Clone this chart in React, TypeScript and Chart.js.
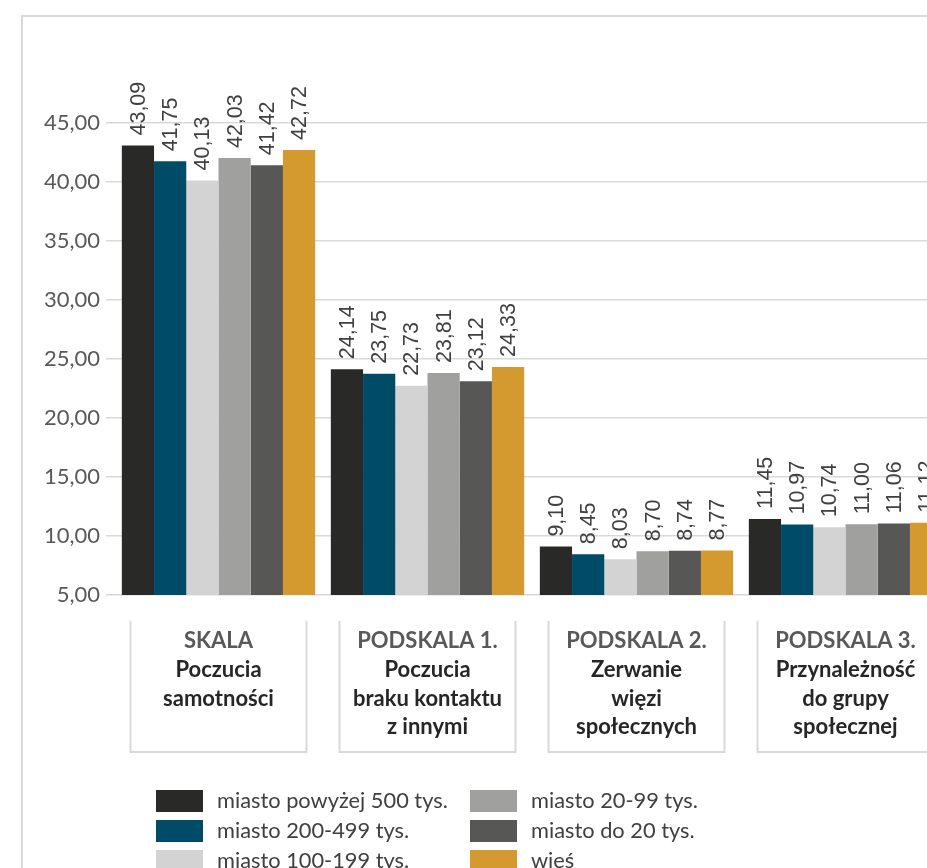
import React, { useEffect, useRef } from 'react';
import { Chart, registerables } from 'chart.js';

Chart.register(...registerables);

const categoryTitles = ['SKALA', 'PODSKALA 1.', 'PODSKALA 2.', 'PODSKALA 3.'];
const categoryLines = [
  ['Poczucia', 'samotności'],
  ['Poczucia', 'braku kontaktu', 'z innymi'],
  ['Zerwanie', 'więzi', 'społecznych'],
  ['Przynależność', 'do grupy', 'społecznej'],
];

const seriesNames = [
  'miasto powyżej 500 tys.',
  'miasto 200-499 tys.',
  'miasto 100-199 tys.',
  'miasto 20-99 tys.',
  'miasto do 20 tys.',
  'wieś',
];
const seriesColors = ['#292927', '#004b67', '#d3d3d3', '#a0a09f', '#575756', '#d49a2f'];

const miastoPow500 = [43.09, 24.14, 9.1, 11.45];
const miasto200_499 = [41.75, 23.75, 8.45, 10.97];
const miasto100_199 = [40.13, 22.73, 8.03, 10.74];
const miasto20_99 = [42.03, 23.81, 8.7, 11.0];
const miastoDo20 = [41.42, 23.12, 8.74, 11.06];
const wies = [42.72, 24.33, 8.77, 11.12];

const yMin = 5;
const yMax = 45;
const yStep = 5;

const fmt = (v: number) => v.toFixed(2).replace('.', ',');

const CANVAS_W = 960;
const CANVAS_H = 868;

const decorPlugin = {
  id: 'decor',
  beforeDraw(chart: any) {
    const ctx = chart.ctx;
    ctx.save();
    ctx.fillStyle = '#ffffff';
    ctx.fillRect(0, 0, chart.width, chart.height);
    ctx.strokeStyle = '#d9d9d9';
    ctx.lineWidth = 2;
    ctx.strokeRect(22, 16, 3000, 3000);
    ctx.restore();
  },
  afterDatasetsDraw(chart: any) {
    const ctx = chart.ctx;
    ctx.save();
    ctx.font = '21.5px "Liberation Sans", Arial, sans-serif';
    ctx.fillStyle = '#404040';
    ctx.textAlign = 'left';
    ctx.textBaseline = 'middle';
    chart.data.datasets.forEach((ds: any, di: number) => {
      const meta = chart.getDatasetMeta(di);
      meta.data.forEach((bar: any, i: number) => {
        const v = ds.data[i];
        ctx.save();
        ctx.translate(bar.x, bar.y - 10);
        ctx.rotate(-Math.PI / 2);
        ctx.fillText(fmt(v), 0, 1);
        ctx.restore();
      });
    });
    ctx.restore();
  },
  afterDraw(chart: any) {
    const ctx = chart.ctx;
    const xs = chart.scales.x;
    ctx.save();
    // category boxes
    const boxTop = 621;
    const boxBottom = 752;
    const halfW = 88;
    categoryTitles.forEach((title, i) => {
      const cx = xs.getPixelForValue(i);
      ctx.strokeStyle = '#d9d9d9';
      ctx.lineWidth = 2;
      ctx.beginPath();
      ctx.moveTo(cx - halfW, boxTop);
      ctx.lineTo(cx - halfW, boxBottom);
      ctx.lineTo(cx + halfW, boxBottom);
      ctx.lineTo(cx + halfW, boxTop);
      ctx.stroke();
      ctx.textAlign = 'center';
      ctx.textBaseline = 'middle';
      ctx.font = 'bold 22px Lato, sans-serif';
      ctx.fillStyle = '#595959';
      ctx.fillText(title, cx, 641);
      ctx.fillStyle = '#262626';
      categoryLines[i].forEach((line, li) => {
        ctx.fillText(line, cx, 670 + li * 28.5);
      });
    });
    // legend (column-major, 3 rows)
    const colX = [156, 470];
    const rowY = [790, 820, 850];
    ctx.font = '21.8px Lato, sans-serif';
    ctx.textAlign = 'left';
    ctx.textBaseline = 'middle';
    chart.data.datasets.forEach((ds: any, di: number) => {
      const col = Math.floor(di / 3);
      const row = di % 3;
      const x = colX[col];
      const y = rowY[row];
      ctx.fillStyle = ds.backgroundColor;
      ctx.fillRect(x, y, 47, 22);
      ctx.fillStyle = '#404040';
      ctx.fillText(ds.label, x + 61, y + 11);
    });
    ctx.restore();
  },
};

export default function App() {
  const ref = useRef<HTMLCanvasElement | null>(null);

  useEffect(() => {
    if (!ref.current) return;
    const seriesData = [miastoPow500, miasto200_499, miasto100_199, miasto20_99, miastoDo20, wies];
    const chart = new Chart(ref.current, {
      type: 'bar',
      data: {
        labels: categoryTitles.map((t, i) => [t, ...categoryLines[i]]),
        datasets: seriesNames.map((name, i) => ({
          label: name,
          data: seriesData[i],
          backgroundColor: seriesColors[i],
          borderWidth: 0,
          barPercentage: 1,
          categoryPercentage: 0.925,
        })),
      },
      options: {
        responsive: false,
        animation: false,
        devicePixelRatio: 1,
        layout: { padding: { top: 123, right: 10, left: 0, bottom: 0 } },
        plugins: {
          legend: { display: false },
          tooltip: { enabled: false },
        },
        scales: {
          x: {
            ticks: { display: false },
            grid: { display: false },
            border: { display: false },
            afterFit: (scale: any) => {
              scale.height = 273;
            },
          },
          y: {
            min: yMin,
            max: yMax,
            ticks: {
              stepSize: yStep,
              color: '#595959',
              font: { family: 'Lato, sans-serif', size: 22 },
              padding: 6,
              callback: (v: any) => fmt(Number(v)),
            },
            grid: { color: '#d9d9d9', lineWidth: 1.5, tickLength: 8, drawTicks: true },
            border: { display: false },
            afterFit: (scale: any) => {
              scale.width = 114;
            },
          },
        },
      },
      plugins: [decorPlugin],
    });
    return () => chart.destroy();
  }, []);

  return (
    <div
      style={{
        position: 'fixed',
        left: 0,
        top: 0,
        width: 927,
        height: 868,
        overflow: 'hidden',
        background: '#fff',
      }}
    >
      <canvas ref={ref} width={CANVAS_W} height={CANVAS_H} style={{ display: 'block', width: CANVAS_W, height: CANVAS_H }} />
    </div>
  );
}
